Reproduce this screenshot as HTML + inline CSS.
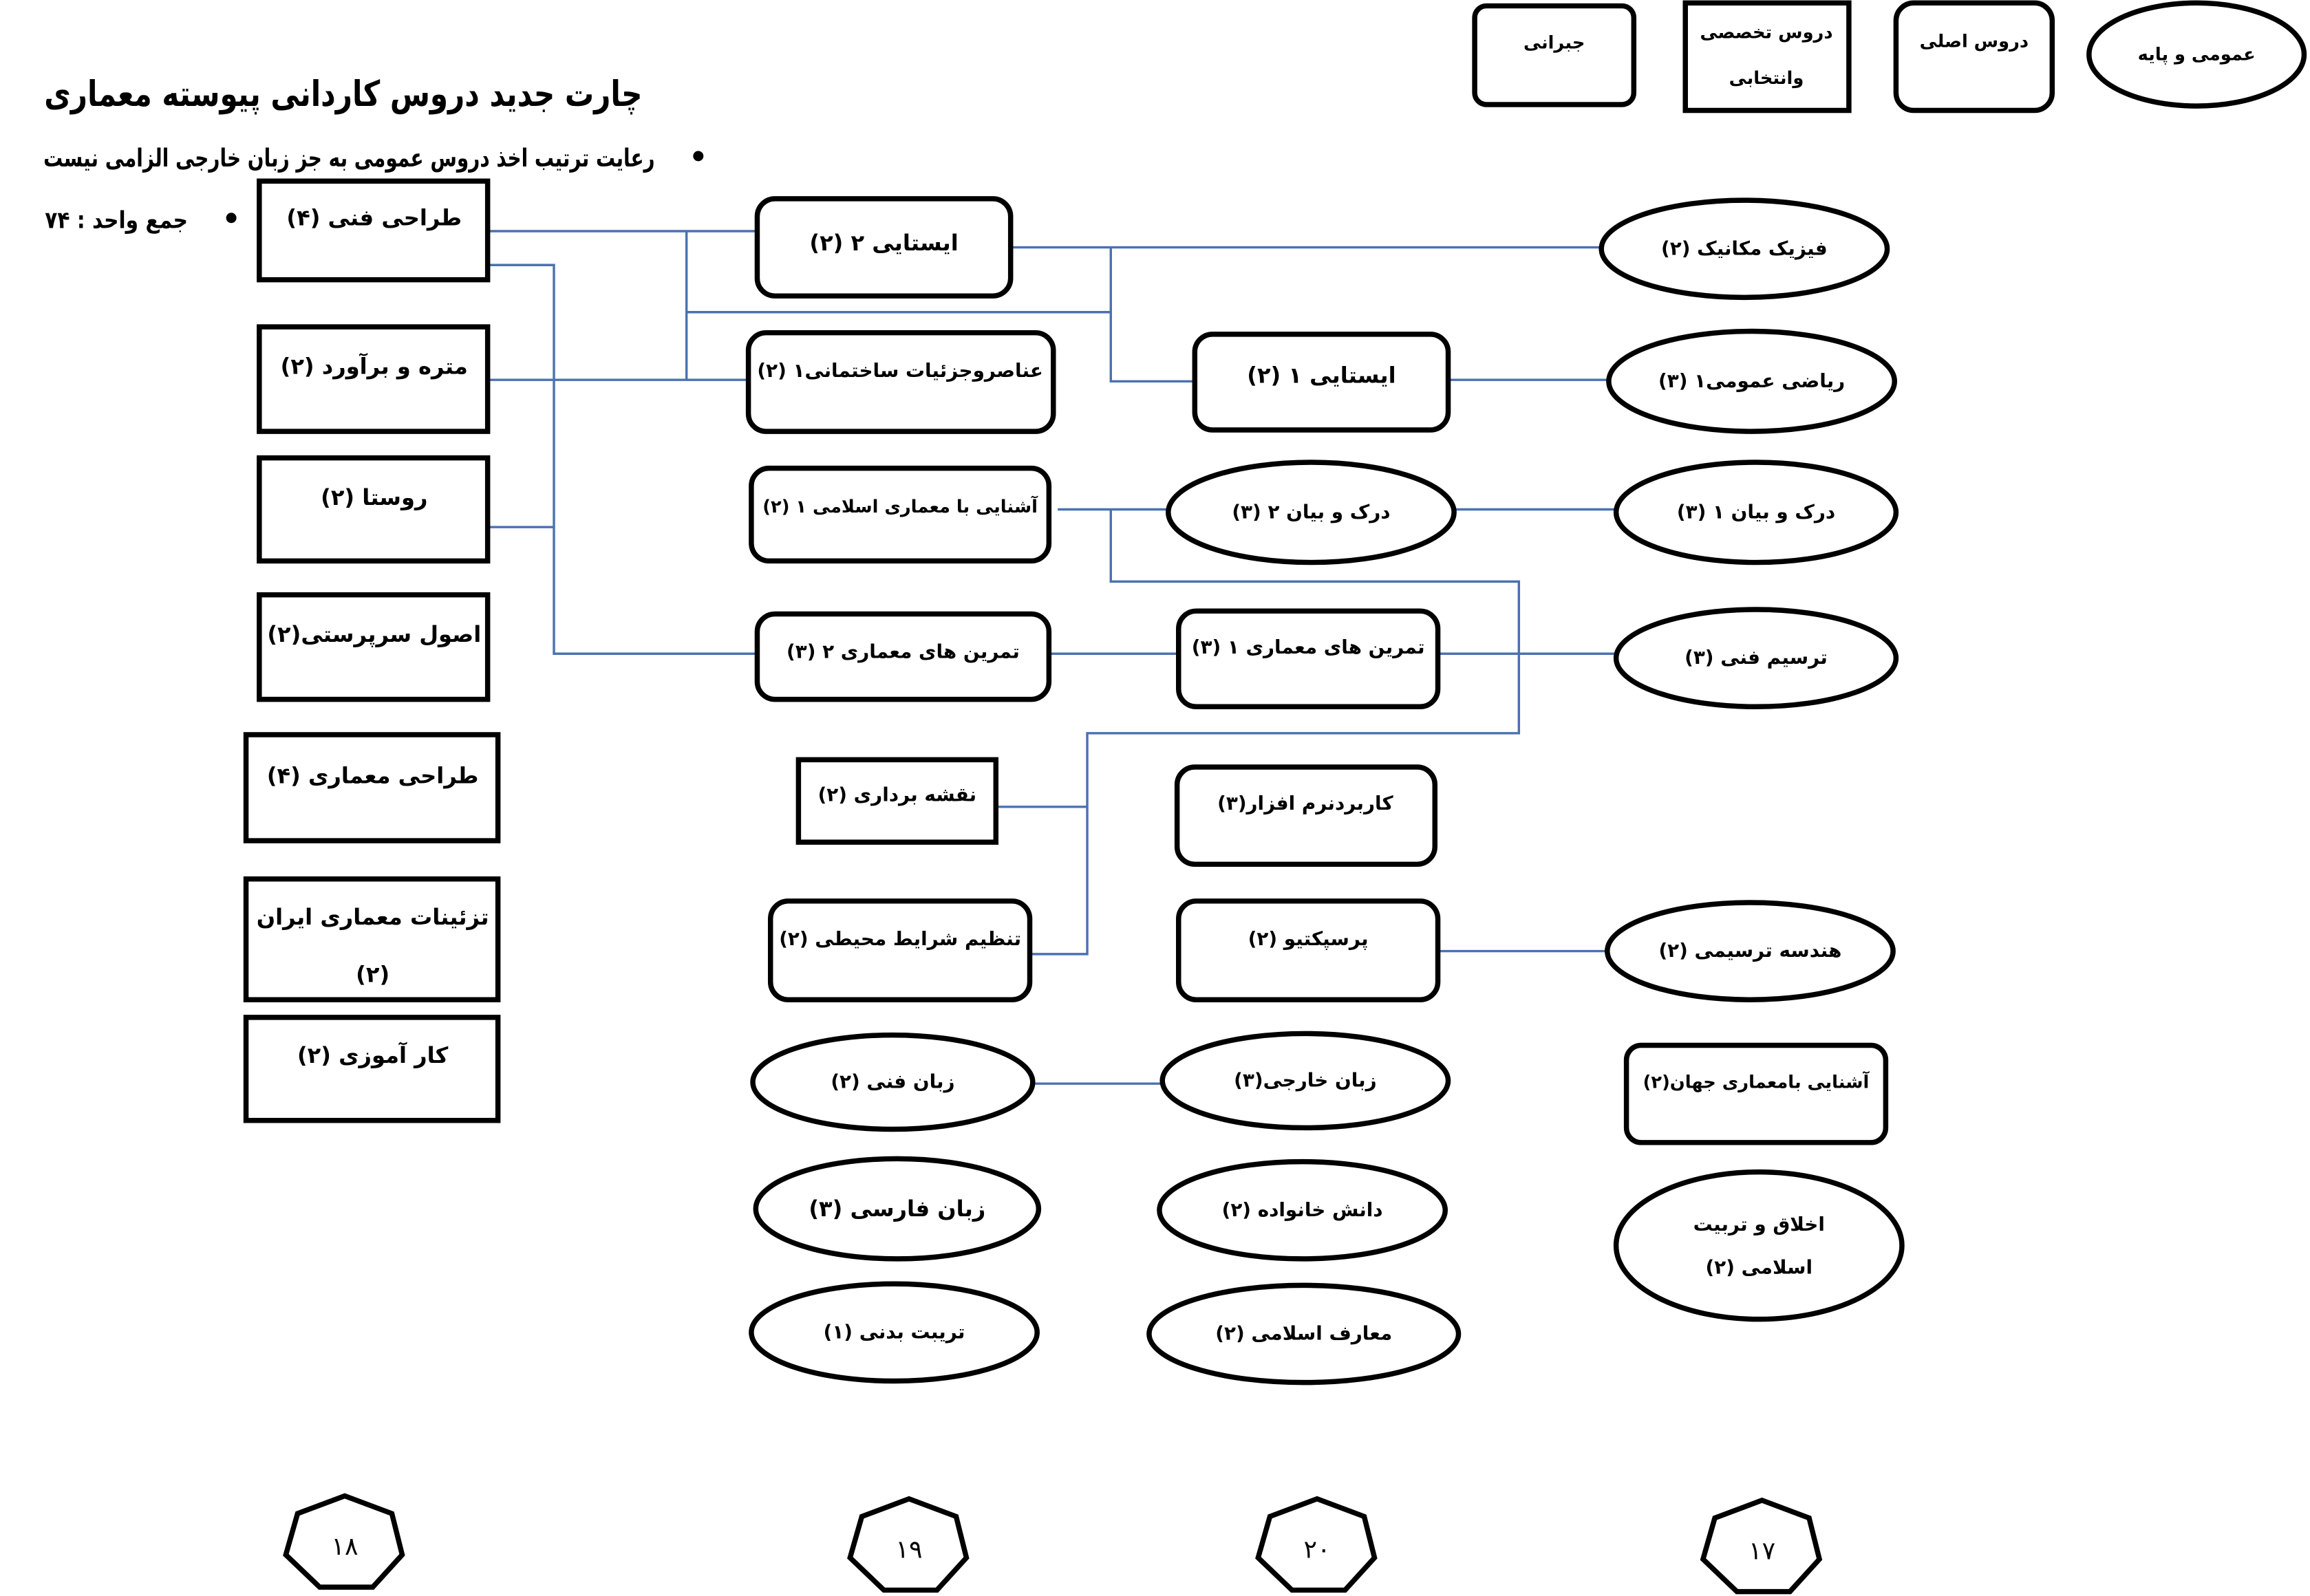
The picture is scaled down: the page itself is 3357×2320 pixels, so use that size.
<!DOCTYPE html>
<html><head><meta charset="utf-8"><style>
html,body{margin:0;padding:0;background:#fff}
svg{display:block}
text{font-family:"DejaVu Sans","Liberation Serif",serif;font-weight:bold;fill:#000;text-anchor:middle;direction:rtl}
.n{fill:#fff;stroke:#000;stroke-width:3.5}
.l{stroke:#4a72b0;stroke-width:1.6;fill:none}
</style></head><body>
<svg width="3357" height="2320" viewBox="0 0 1568 1084" preserveAspectRatio="none" xmlns="http://www.w3.org/2000/svg">
<defs><polygon id="hp" points="0,-34 -32,-22 -40,6 -17,28 19,28 39,6 32,-22"/></defs>
<g class="l">
<polyline points="331,157 514,157"/>
<polyline points="466,157 466,258"/>
<polyline points="466,212 754,212"/>
<polyline points="331,258 508,258"/>
<polyline points="331,180 376,180 376,444 514,444"/>
<polyline points="331,358 376,358"/>
<polyline points="686,168 1088,168"/>
<polyline points="754,168 754,259 811,259"/>
<polyline points="983,258 1093,258"/>
<polyline points="718,346 793,346"/>
<polyline points="754,346 754,395 1031,395 1031,498 738,498 738,648 699,648"/>
<polyline points="676,548 738,548"/>
<polyline points="987,346 1097,346"/>
<polyline points="712,444 800,444"/>
<polyline points="976,444 1097,444"/>
<polyline points="976,646 1091,646"/>
<polyline points="701,736 789,736"/>
</g>
<rect class="n" x="1001" y="4" width="108" height="67" rx="8"/>
<text x="1055" y="33" font-size="12">جبرانی</text>
<rect class="n" x="1144" y="2" width="111" height="73"/>
<text x="1199" y="26" font-size="12">دروس تخصصی</text>
<text x="1199" y="57" font-size="12">وانتخابی</text>
<rect class="n" x="1287" y="2" width="106" height="73" rx="12"/>
<text x="1340" y="32" font-size="12">دروس اصلی</text>
<ellipse class="n" cx="1491" cy="37" rx="73" ry="35"/>
<text x="1491" y="41" font-size="12">عمومی و پایه</text>
<text x="233" y="72" font-size="24" textLength="406" lengthAdjust="spacingAndGlyphs">چارت جدید دروس کاردانی پیوسته معماری</text>
<text x="237" y="113" font-size="17" textLength="415" lengthAdjust="spacingAndGlyphs">رعایت ترتیب اخذ دروس عمومی به جز زبان خارجی الزامی نیست</text>
<circle cx="474" cy="106" r="3.5"/>
<text x="79" y="155" font-size="16" textLength="97" lengthAdjust="spacingAndGlyphs">جمع واحد : ۷۴</text>
<circle cx="157" cy="148" r="3.5"/>
<rect class="n" x="176" y="123" width="155" height="67"/><text x="254" y="153" font-size="15">طراحی فنی (۴)</text>
<rect class="n" x="176" y="222" width="155" height="71"/><text x="254" y="254" font-size="15">متره و برآورد (۲)</text>
<rect class="n" x="176" y="311" width="155" height="70"/><text x="254" y="343" font-size="15">روستا (۲)</text>
<rect class="n" x="176" y="404" width="155" height="71"/><text x="254" y="436" font-size="15">اصول سرپرستی(۲)</text>
<rect class="n" x="167" y="499" width="171" height="72"/><text x="253" y="532" font-size="15">طراحی معماری (۴)</text>
<rect class="n" x="167" y="597" width="171" height="82"/><text x="253" y="628" font-size="15">تزئینات معماری ایران</text><text x="253" y="667" font-size="15">(۲)</text>
<rect class="n" x="167" y="691" width="171" height="70"/><text x="253" y="722" font-size="15">کار آموزی (۲)</text>
<rect class="n" x="514" y="135" width="172" height="66" rx="12"/><text x="600" y="170" font-size="15">ایستایی ۲ (۲)</text>
<rect class="n" x="508" y="226" width="207" height="67" rx="12"/><text x="611" y="256" font-size="13">عناصروجزئیات ساختمانی۱ (۲)</text>
<rect class="n" x="510" y="318" width="202" height="63" rx="12"/><text x="611" y="348" font-size="12">آشنایی با معماری اسلامی ۱ (۲)</text>
<rect class="n" x="514" y="417" width="198" height="58" rx="12"/><text x="613" y="447" font-size="13">تمرین های معماری ۲ (۳)</text>
<rect class="n" x="542" y="516" width="134" height="56"/><text x="609" y="544" font-size="13">نقشه برداری (۲)</text>
<rect class="n" x="523" y="612" width="176" height="67" rx="12"/><text x="611" y="642" font-size="13">تنظیم شرایط محیطی (۲)</text>
<ellipse class="n" cx="606" cy="735" rx="95" ry="32"/><text x="606" y="739" font-size="13">زبان فنی (۲)</text>
<ellipse class="n" cx="609" cy="821" rx="96" ry="34"/><text x="609" y="826" font-size="15">زبان فارسی (۳)</text>
<ellipse class="n" cx="607" cy="905" rx="97" ry="33"/><text x="607" y="909" font-size="13">تریبت بدنی (۱)</text>
<rect class="n" x="811" y="227" width="172" height="65" rx="12"/><text x="897" y="260" font-size="15">ایستایی ۱ (۲)</text>
<ellipse class="n" cx="890" cy="348" rx="97" ry="34"/><text x="890" y="352" font-size="13">درک و بیان ۲ (۳)</text>
<rect class="n" x="800" y="415" width="176" height="65" rx="12"/><text x="888" y="444" font-size="13">تمرین های معماری ۱ (۳)</text>
<rect class="n" x="799" y="521" width="175" height="66" rx="12"/><text x="886" y="550" font-size="13">کاربردنرم افزار(۳)</text>
<rect class="n" x="800" y="612" width="176" height="67" rx="12"/><text x="888" y="642" font-size="13">پرسپکتیو   (۲)</text>
<ellipse class="n" cx="886" cy="734" rx="97" ry="32"/><text x="886" y="738" font-size="13">زبان خارجی(۳)</text>
<ellipse class="n" cx="884" cy="822" rx="97" ry="33"/><text x="884" y="826" font-size="13">دانش خانواده (۲)</text>
<ellipse class="n" cx="885" cy="906" rx="105" ry="33"/><text x="885" y="910" font-size="13">معارف  اسلامی (۲)</text>
<ellipse class="n" cx="1184" cy="169" rx="97" ry="33"/><text x="1184" y="173" font-size="13">فیزیک مکانیک (۲)</text>
<ellipse class="n" cx="1189" cy="259" rx="97" ry="34"/><text x="1189" y="263" font-size="13">ریاضی عمومی۱ (۳)</text>
<ellipse class="n" cx="1192" cy="348" rx="95" ry="34"/><text x="1192" y="352" font-size="13">درک و بیان ۱ (۳)</text>
<ellipse class="n" cx="1192" cy="447" rx="95" ry="33"/><text x="1192" y="451" font-size="13">ترسیم فنی (۳)</text>
<ellipse class="n" cx="1188" cy="646" rx="97" ry="33"/><text x="1188" y="650" font-size="13">هندسه ترسیمی (۲)</text>
<rect class="n" x="1104" y="710" width="176" height="66" rx="10"/><text x="1192" y="739" font-size="12">آشنایی بامعماری جهان(۲)</text>
<ellipse class="n" cx="1194" cy="846" rx="97" ry="50"/><text x="1194" y="836" font-size="13">اخلاق و تربیت</text><text x="1194" y="865" font-size="13">اسلامی (۲)</text>
<g class="n">
<use href="#hp" x="234" y="1050"/>
<use href="#hp" x="617" y="1052"/>
<use href="#hp" x="894" y="1052"/>
<use href="#hp" x="1196" y="1053"/>
</g>
<g style="font-weight:normal">
<text x="234" y="1056" font-size="17" style="font-weight:normal">۱۸</text>
<text x="617" y="1058" font-size="17" style="font-weight:normal">۱۹</text>
<text x="894" y="1058" font-size="17" style="font-weight:normal">۲۰</text>
<text x="1196" y="1059" font-size="17" style="font-weight:normal">۱۷</text>
</g>
</svg>
</body></html>
